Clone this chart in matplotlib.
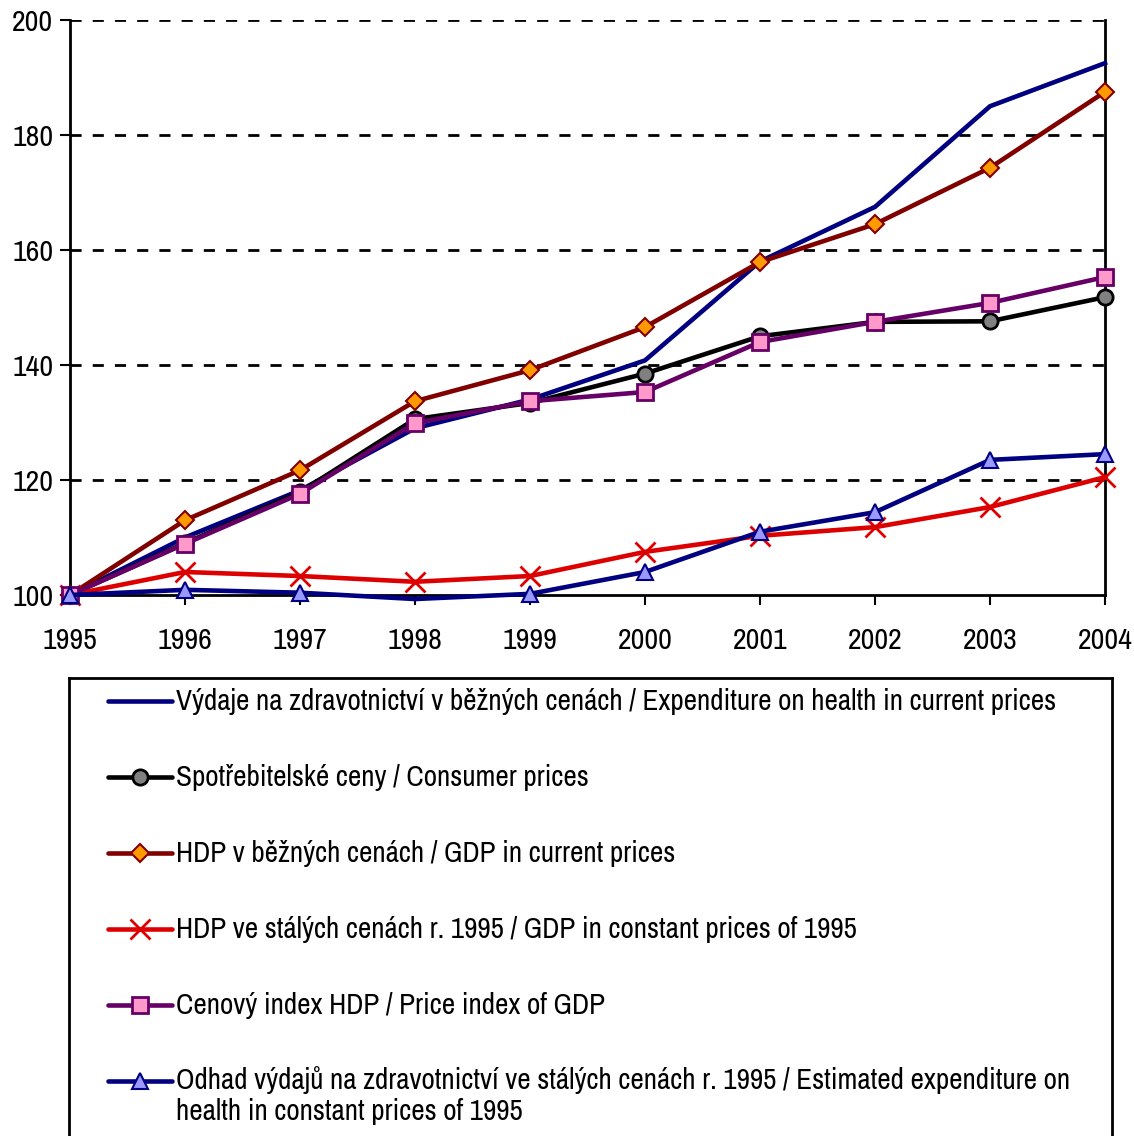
import matplotlib
matplotlib.use("Agg")
import matplotlib.pyplot as plt
from matplotlib import font_manager

# the original uses Arial Narrow; take a narrow face if there is one
names = sorted({f.name for f in font_manager.fontManager.ttflist})
narrow = [n for n in names if 'Narrow' in n or 'Condensed' in n]
if narrow:
    base_font, tick_fs, leg_fs = narrow[0], 21.5, 21
else:
    base_font, tick_fs, leg_fs = 'Liberation Sans', 17.5, 16.3
plt.rcParams['font.family'] = [base_font, 'DejaVu Sans']

years = [1995, 1996, 1997, 1998, 1999, 2000, 2001, 2002, 2003, 2004]

health_current = [100, 110.0, 118.2, 129.0, 134.0, 140.8, 158.0, 167.5, 185.0, 192.5]
consumer_prices = [100, 109.0, 117.9, 130.6, 133.4, 138.5, 145.0, 147.5, 147.6, 151.8]
gdp_current = [100, 113.0, 121.7, 133.7, 139.1, 146.6, 157.9, 164.5, 174.3, 187.5]
gdp_constant = [100, 104.0, 103.3, 102.3, 103.3, 107.5, 110.3, 111.8, 115.3, 120.5]
gdp_price_index = [100, 108.9, 117.6, 129.9, 133.7, 135.3, 144.0, 147.5, 150.8, 155.3]
health_constant = [100, 100.9, 100.4, 99.3, 100.2, 104.0, 111.0, 114.4, 123.5, 124.5]

labels = [
    "Výdaje na zdravotnictví v běžných cenách / Expenditure on health in current prices",
    "Spotřebitelské ceny / Consumer prices",
    "HDP v běžných cenách / GDP in current prices",
    "HDP ve stálých cenách r. 1995 / GDP in constant prices of 1995",
    "Cenový index HDP / Price index of GDP",
    "Odhad výdajů na zdravotnictví ve stálých cenách r. 1995 / Estimated expenditure on\nhealth in constant prices of 1995",
]

styles = [
    dict(color='#000080', marker=None),
    dict(color='black', marker='o', ms=11, mfc='#808080', mec='black', mew=2),
    dict(color='#800000', marker='D', ms=9, mfc='#FF9900', mec='#800000', mew=1.5),
    dict(color='#DD0000', marker='x', ms=14, mew=2),
    dict(color='#660066', marker='s', ms=11, mfc='#FF99CC', mec='#660066', mew=2),
    dict(color='#000080', marker='^', ms=11, mfc='#9999FF', mec='#000080', mew=1.5),
]
series = [health_current, consumer_prices, gdp_current, gdp_constant, gdp_price_index, health_constant]

W, H = 1134, 1136
fig = plt.figure(figsize=(W / 100, H / 100), dpi=100)
ax = fig.add_axes([70 / W, 1 - 595 / H, 1035 / W, 575 / H])

for vals, st in zip(series, styles):
    kw = dict(st)
    if kw['marker'] == '^':
        # Excel hides the marker that falls under the axis minimum (1998)
        kw['markevery'] = [i for i, v in enumerate(vals) if v >= 100]
    ax.plot(years, vals, lw=3.3, clip_on=False, zorder=3, **kw)

ax.set_xlim(1995, 2004)
ax.set_ylim(100, 200)
ax.set_xticks(years)
ax.set_yticks(range(100, 201, 20))
ax.tick_params(labelsize=tick_fs, length=7, width=1.5, direction='out')
ax.tick_params(axis='x', pad=16)
ax.tick_params(axis='y', pad=5)
for y in range(120, 201, 20):
    ax.axhline(y, color='black', lw=2, ls=(0, (4, 4)), zorder=1)
ax.spines['top'].set_visible(False)
for s in ['left', 'right', 'bottom']:
    ax.spines[s].set_linewidth(2)

# legend box
lx0, lx1, ly0, ly1 = 69, 1112, 678, 1140
lax = fig.add_axes([lx0 / W, 1 - ly1 / H, (lx1 - lx0) / W, (ly1 - ly0) / H])
lax.set_xlim(lx0, lx1)
lax.set_ylim(ly1, ly0)
lax.set_xticks([])
lax.set_yticks([])
for s in lax.spines.values():
    s.set_linewidth(2)

rows = [701, 777, 853, 929, 1005, 1081]
for yy, lab, st in zip(rows, labels, styles):
    kw = dict(st)
    mk = kw.pop('marker')
    lax.plot([108, 172], [yy, yy], lw=3.3, color=st['color'], solid_capstyle='round')
    if mk is not None:
        lax.plot([140], [yy], marker=mk, ls='none', **kw)
    if '\n' in lab:
        lax.text(176, yy - 15, lab, fontsize=leg_fs, va='top', ha='left', linespacing=1.2)
    else:
        lax.text(176, yy, lab, fontsize=leg_fs, va='center', ha='left')

fig.savefig("out.png", dpi=100)
